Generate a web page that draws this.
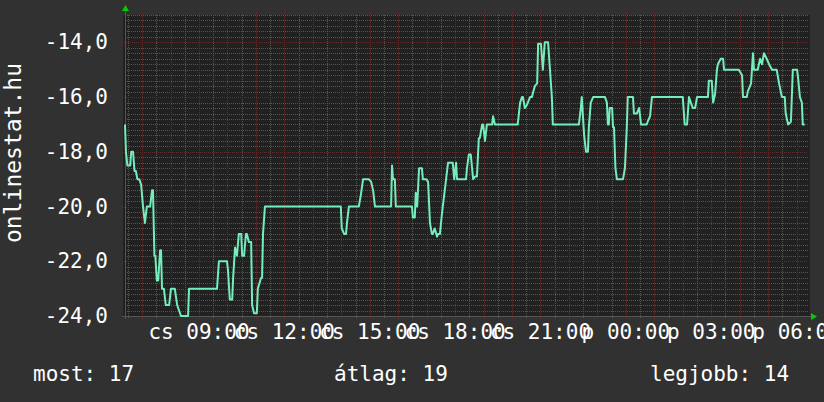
<!DOCTYPE html>
<html>
<head>
<meta charset="utf-8">
<script src="https://cdn.jsdelivr.net/npm/d3@7"></script>
<style>
  html, body { margin: 0; padding: 0; background: #313131; }
  svg { display: block; }
  text { font-family: "DejaVu Sans Mono", monospace; fill: #fff; }
</style>
</head>
<body>
<div id="chart"></div>
<script>
// minutes after cs 06:24, rank value
const minutes = [
  0, 2, 5, 11, 13, 17, 20, 23, 26, 30, 34, 38, 42, 46, 53, 57, 59, 62, 64, 67,
  70, 74, 76, 78, 82, 86, 93, 97, 105, 110, 114, 118, 133, 135, 194, 198, 215, 217, 221, 226,
  228, 232, 236, 240, 245, 247, 251, 255, 257, 261, 266, 268, 272, 278, 280, 287, 289, 291, 295, 455,
  457, 462, 466, 468, 472, 493, 497, 502, 514, 519, 523, 527, 561, 563, 565, 569, 571, 605, 607, 611,
  613, 616, 620, 626, 628, 635, 639, 643, 647, 649, 653, 658, 660, 664, 668, 670, 677, 681, 691, 694,
  698, 700, 719, 721, 725, 729, 734, 738, 742, 746, 748, 753, 755, 759, 763, 774, 776, 780, 828, 833,
  837, 839, 843, 847, 854, 858, 860, 864, 869, 871, 877, 881, 885, 892, 896, 900, 902, 957, 961, 963,
  968, 972, 976, 978, 982, 987, 1012, 1016, 1018, 1020, 1022, 1027, 1029, 1031, 1034, 1037, 1050, 1054, 1058, 1060,
  1071, 1073, 1079, 1084, 1088, 1100, 1102, 1107, 1111, 1176, 1180, 1185, 1189, 1193, 1197, 1202, 1206, 1229, 1231, 1237,
  1240, 1244, 1248, 1250, 1256, 1261, 1263, 1294, 1301, 1303, 1311, 1313, 1320, 1324, 1326, 1334, 1339, 1343, 1347, 1353,
  1358, 1364, 1374, 1379, 1385, 1391, 1393, 1398, 1404, 1408, 1417, 1419, 1423, 1427, 1429, 1433
]
const values = [
  -17, -18, -18.5, -18.5, -18, -18, -18.7, -18.7, -19, -19, -19.2, -20, -20.6, -20, -20, -19.4, -19.4, -21.8, -21.8, -22.7,
  -22.7, -21.6, -21.6, -23, -23, -23.6, -23.6, -23, -23, -23.6, -23.8, -24, -24, -23, -23, -22, -22, -22.3, -23.4, -23.4,
  -22.6, -21.5, -21.8, -21, -21, -21.8, -21.8, -21, -21, -21.3, -21.3, -23.6, -23.9, -23.9, -23, -22.6, -22.6, -21, -20, -20,
  -20.8, -21, -21, -20.6, -20, -20, -19.6, -19, -19, -19.1, -19.4, -20, -20, -18.5, -19, -19, -20, -20, -20.4, -20.4,
  -19.5, -20, -18.6, -18.6, -19, -19, -19.1, -20.6, -21, -21, -20.8, -21.1, -21, -21, -20.3, -20, -19, -18.4, -18.4, -19,
  -18.4, -19, -19, -18.6, -18.1, -18.1, -19, -18.9, -18.9, -17.5, -17.5, -17, -17, -17.6, -17, -17, -16.7, -17, -17, -16.2,
  -16, -16, -16.4, -16.3, -16, -16, -15.85, -15.6, -15.5, -14.05, -14.05, -15, -14, -14, -15, -16, -17, -17, -16.4, -16,
  -17.4, -18, -18, -17.1, -16.2, -16, -16, -16.2, -17, -17, -16.4, -16.4, -17.1, -17.1, -18.6, -19, -19, -18.6, -17.1, -16,
  -16, -16.6, -16.6, -16.4, -17, -17, -16.9, -16.7, -16, -16, -17, -17, -16, -16.2, -16.4, -16.4, -16, -16, -15.4, -15.4,
  -16.2, -15.9, -15, -14.8, -14.6, -14.6, -15, -15, -15.2, -16, -16, -15.8, -15.5, -14.4, -15, -15, -14.6, -14.8, -14.4, -14.6,
  -14.8, -15, -15, -15.5, -16, -16, -16.6, -17, -16.9, -15, -15, -15.3, -16, -16.2, -17, -17
]
const yTicks = [-24, -22, -20, -18, -16, -14]
const dayNames = ["v", "h", "k", "sze", "cs", "p", "szo"]
const axisTitle = "onlinestat.hu"
const legendLabels = ["most", "átlag", "legjobb"]
const legendValues = [17, 19, 14]

const width = 824
const height = 402
const margin = { top: 15, right: 16, bottom: 86, left: 125 }

const start = new Date(2024, 0, 4, 6, 24)
const end = new Date(2024, 0, 5, 6, 24)
const data = minutes.map((m, i) => ({
  t: new Date(start.getTime() + m * 60000),
  v: values[i],
}))

const x = d3
  .scaleTime()
  .domain([start, end])
  .range([margin.left, width - margin.right])

const y = d3
  .scaleLinear()
  .domain([-24, -13])
  .range([height - margin.bottom, margin.top])

const fmt = d3.formatLocale({
  decimal: ",",
  thousands: " ",
  grouping: [3],
  currency: ["", ""],
  minus: "-",
}).format(".1f")
const hm = d3.timeFormat("%H:%M")

const svg = d3
  .select("#chart")
  .append("svg")
  .attr("width", width)
  .attr("height", height)

svg.append("rect")
  .attr("width", width)
  .attr("height", height)
  .attr("fill", "#313131")

const x0 = x.range()[0], x1 = x.range()[1]
const y0 = y.range()[0], y1 = y.range()[1]

svg.append("rect")
  .attr("x", x0 - 2)
  .attr("y", y1)
  .attr("width", x1 - x0 + 4)
  .attr("height", y0 - y1)
  .attr("fill", "#212121")

// minor grid
const grid = svg.append("g").attr("shape-rendering", "crispEdges")
const minorY = d3.range(-24, -13 + 0.001, 0.2).filter((v) => Math.abs(v - Math.round(v / 2) * 2) > 0.01)
grid.selectAll(".hminor")
  .data(minorY)
  .enter()
  .append("line")
  .attr("x1", x0)
  .attr("x2", x1)
  .attr("y1", (d) => Math.round(y(d)) + 0.5)
  .attr("y2", (d) => Math.round(y(d)) + 0.5)
  .attr("stroke", "#555555")
  .attr("stroke-dasharray", "1,1")

const minorX = x.ticks(d3.timeMinute.every(30)).filter((d) => d.getMinutes() === 30)
grid.selectAll(".vminor")
  .data(minorX)
  .enter()
  .append("line")
  .attr("x1", (d) => Math.round(x(d)) + 0.5)
  .attr("x2", (d) => Math.round(x(d)) + 0.5)
  .attr("y1", y1)
  .attr("y2", y0 + 3)
  .attr("stroke", "#555555")
  .attr("stroke-dasharray", "1,1")

// major grid
const majorX = x.ticks(d3.timeHour.every(1))
grid.selectAll(".vmajor")
  .data(majorX)
  .enter()
  .append("line")
  .attr("x1", (d) => Math.round(x(d)) + 0.5)
  .attr("x2", (d) => Math.round(x(d)) + 0.5)
  .attr("y1", y1 - 3)
  .attr("y2", y0 + 3)
  .attr("stroke", "#5e2e2e")
  .attr("stroke-dasharray", "1,1")

grid.selectAll(".hmajor")
  .data(yTicks)
  .enter()
  .append("line")
  .attr("x1", x0 - 3)
  .attr("x2", x1)
  .attr("y1", (d) => Math.round(y(d)) + 0.5)
  .attr("y2", (d) => Math.round(y(d)) + 0.5)
  .attr("stroke", "#5e2e2e")
  .attr("stroke-dasharray", "1,1")

// axes
svg.append("line")
  .attr("x1", x0 + 0.5).attr("x2", x0 + 0.5)
  .attr("y1", y0 + 3).attr("y2", y1 - 4)
  .attr("stroke", "#555")
svg.append("line")
  .attr("x1", x0 - 3).attr("x2", x1 + 3)
  .attr("y1", y0 + 0.5).attr("y2", y0 + 0.5)
  .attr("stroke", "#555")
svg.append("path")
  .attr("d", `M${x0 - 3},${y1 - 4}L${x0 + 4},${y1 - 4}L${x0 + 0.5},${y1 - 10}Z`)
  .attr("fill", "#00cc00")
svg.append("path")
  .attr("d", `M${x1 + 3},${y0 - 3}L${x1 + 3},${y0 + 4}L${x1 + 9},${y0 + 0.5}Z`)
  .attr("fill", "#00cc00")

// series
const line = d3
  .line()
  .x((d) => x(d.t))
  .y((d) => y(d.v))

svg.append("path")
  .datum(data)
  .attr("fill", "none")
  .attr("stroke", "#74ecbb")
  .attr("stroke-width", 2)
  .attr("stroke-linejoin", "round")
  .attr("d", line)

// labels
svg.selectAll(".ylab")
  .data(yTicks)
  .enter()
  .append("text")
  .attr("x", 108)
  .attr("y", (d) => y(d) + 7)
  .attr("text-anchor", "end")
  .attr("font-size", "21px")
  .text((d) => fmt(d))

svg.selectAll(".xlab")
  .data(x.ticks(d3.timeHour.every(3)))
  .enter()
  .append("text")
  .attr("x", (d) => x(d))
  .attr("y", 339)
  .attr("text-anchor", "middle")
  .attr("font-size", "21px")
  .text((d) => dayNames[d.getDay()] + " " + hm(d))

svg.append("text")
  .attr("transform", "translate(21,153) rotate(-90)")
  .attr("text-anchor", "middle")
  .attr("font-size", "23px")
  .text(axisTitle)

const legendX = [33, 334, 650]
svg.selectAll(".legend")
  .data(legendLabels)
  .enter()
  .append("text")
  .attr("x", (d, i) => legendX[i])
  .attr("y", 381)
  .attr("font-size", "21px")
  .text((d, i) => `${d}: ${legendValues[i]}`)
</script>
</body>
</html>
